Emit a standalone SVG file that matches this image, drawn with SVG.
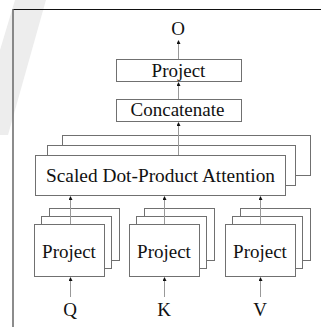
<svg xmlns="http://www.w3.org/2000/svg" width="321" height="327" viewBox="0 0 321 327">
<defs>
<style>
.box{fill:#fff;stroke:#707070;stroke-width:1}
.t{font-size:19px;fill:#111;text-anchor:middle}
.c{stroke:#999;stroke-width:1;fill:none;marker-end:url(#ah)}
</style>
<marker id="ah" viewBox="0 0 6 6" refX="3" refY="3" markerWidth="4" markerHeight="4" markerUnits="userSpaceOnUse" orient="auto">
<path d="M0,0 L6,3 L0,6 z" fill="#111"/>
</marker>
</defs>
<rect width="321" height="327" fill="#fff"/>
<polygon points="15,0 46,0 8,135 0,135 0,50" fill="#ededed"/>
<line x1="13" y1="9.5" x2="321" y2="9.5" stroke="#111" stroke-width="1"/>
<line x1="13" y1="9" x2="13" y2="327" stroke="#666" stroke-width="1.5"/>

<g font-family="Liberation Serif, Times New Roman, serif">
<g id="out"><text class="t" x="178" y="35">O</text></g>
<g id="project-out"><rect class="box" x="116.5" y="59.5" width="125" height="22"/><text class="t" x="178.5" y="76.5">Project</text></g>
<g id="concat"><rect class="box" x="116.5" y="99.5" width="125" height="22"/><text class="t" x="177.5" y="115.5">Concatenate</text></g>
<g id="attention">
<rect class="box" x="62.5" y="135.5" width="248" height="40"/>
<rect class="box" x="47.5" y="145.5" width="248" height="40"/>
<rect class="box" x="35.5" y="155.5" width="250" height="40"/>
<text class="t" x="160.5" y="181.5" textLength="229" lengthAdjust="spacingAndGlyphs">Scaled Dot-Product Attention</text>
</g>
<g id="project-q">
<rect class="box" x="49.5" y="208.5" width="70" height="52"/>
<rect class="box" x="41.5" y="216.5" width="70" height="52"/>
<rect class="box" x="34.5" y="224.5" width="70" height="52"/>
<text class="t" x="69" y="258">Project</text>
</g>
<g id="project-k">
<rect class="box" x="144.5" y="208.5" width="70" height="52"/>
<rect class="box" x="136.5" y="216.5" width="70" height="52"/>
<rect class="box" x="129.5" y="224.5" width="70" height="52"/>
<text class="t" x="164" y="258">Project</text>
</g>
<g id="project-v">
<rect class="box" x="240.5" y="208.5" width="70" height="52"/>
<rect class="box" x="232.5" y="216.5" width="70" height="52"/>
<rect class="box" x="225.5" y="224.5" width="70" height="52"/>
<text class="t" x="260" y="258">Project</text>
</g>
<g id="q"><text class="t" x="70" y="316">Q</text></g>
<g id="k"><text class="t" x="164" y="316">K</text></g>
<g id="v"><text class="t" x="260" y="316">V</text></g>
</g>

<g id="connectors">
<line class="c" x1="178.5" y1="59" x2="178.5" y2="42"/>
<line class="c" x1="178.5" y1="99" x2="178.5" y2="84"/>
<line class="c" x1="178.5" y1="155" x2="178.5" y2="124"/>
<line class="c" x1="70.5" y1="224" x2="70.5" y2="198"/>
<line class="c" x1="164.5" y1="224" x2="164.5" y2="198"/>
<line class="c" x1="260.5" y1="224" x2="260.5" y2="198"/>
<line class="c" x1="70.5" y1="297" x2="70.5" y2="279"/>
<line class="c" x1="164.5" y1="297" x2="164.5" y2="279"/>
<line class="c" x1="260.5" y1="297" x2="260.5" y2="279"/>
</g>
</svg>
